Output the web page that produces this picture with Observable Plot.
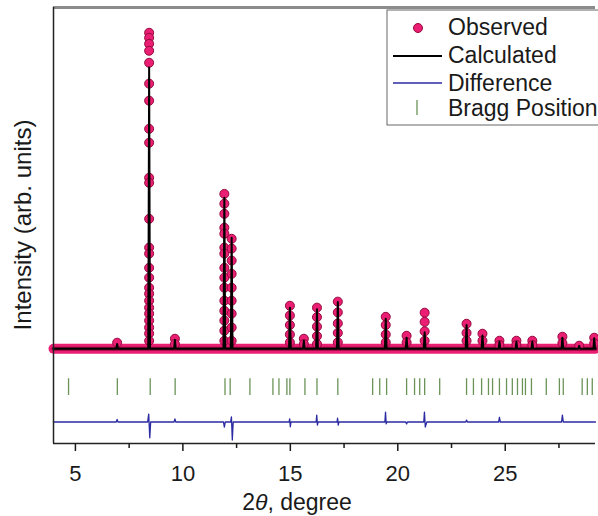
<!DOCTYPE html>
<html><head><meta charset="utf-8">
<script src="https://cdn.jsdelivr.net/npm/d3@7"></script>
<script src="https://cdn.jsdelivr.net/npm/@observablehq/plot@0.6"></script>
<style>body{margin:0;background:#fff;} svg{display:block;}</style>
</head><body><div id="chart"></div>
<script>
// ---- data ----
const xDomain = [3.98, 29.2];
const yDomain = [-3000, 10800];
const xTicks = [5, 10, 15, 20, 25];
const xMinorTicks = [7.5, 12.5, 17.5, 22.5, 27.5];

// reflection positions (2theta) and calculated peak tops
const peakPos  = [6.94, 8.43, 9.63, 11.93, 12.27, 14.98, 15.63, 16.24, 17.21, 19.44, 20.41, 21.25, 23.20, 23.94, 24.73, 25.52, 26.26, 27.66, 28.44, 29.14];
const peakCalc = [150, 8900, 280, 4780, 3510, 1300, 250, 1250, 1480, 950, 350, 520, 750, 420, 220, 220, 220, 350, 90, 330];
// observed points on each peak
const obsDots = [
  [190],
  [10000, 9840, 9650, 9430, 9050, 8390, 7850, 6960, 6520, 5410, 5250, 4110, 3200, 3010, 2560, 2250, 1930, 1740, 1520, 1300, 1110, 890, 670, 480, 250],
  [316, 150],
  [4900, 4590, 4270, 3830, 3640, 3200, 3010, 2560, 2250, 1930, 1520, 1200, 890, 570, 250],
  [3480, 3170, 2790, 2370, 1930, 1520, 1110, 670, 250],
  [1360, 1050, 750, 450, 200],
  [316, 150],
  [1300, 1000, 700, 400, 150],
  [1490, 1150, 800, 500, 200],
  [1010, 750, 450, 200],
  [410, 200],
  [1140, 850, 550, 250],
  [790, 500, 250],
  [475, 250],
  [253, 120],
  [253, 120],
  [253, 120],
  [380, 180],
  [95],
  [348, 170]
];
// Bragg positions (2theta)
const braggPos = [4.68, 6.95, 8.48, 9.64, 11.96, 12.20, 13.12, 14.19, 14.47, 14.84, 14.98, 15.68, 16.24, 17.21, 18.83, 19.16, 19.48, 20.41, 20.78, 21.02, 21.25, 21.95, 23.20, 23.52, 23.90, 24.22, 24.41, 24.73, 25.06, 25.33, 25.57, 25.80, 25.94, 26.22, 26.91, 27.52, 27.70, 28.58, 28.82, 29.05];
const braggTop = -950, braggBottom = -1480;
// difference curve (obs - calc), drawn with an offset
const diffOffset = -2320;
const diffX = [3.98, 6.90, 6.94, 6.98, 8.36, 8.41, 8.46, 8.50, 9.59, 9.63, 9.67, 11.89, 11.93, 11.97, 12.22, 12.26, 12.30, 12.34, 14.94, 14.97, 15.00, 15.03, 16.20, 16.23, 16.26, 16.29, 17.17, 17.20, 17.23, 17.26, 19.40, 19.43, 19.46, 19.49, 20.37, 20.41, 20.45, 21.21, 21.24, 21.28, 21.35, 23.16, 23.20, 23.24, 24.69, 24.73, 24.77, 27.62, 27.66, 27.70, 29.2];
const diffR = [0, 0, 80, 0, 0, 250, -500, 0, 0, 100, 0, 0, -160, 0, 0, 160, -570, 0, 0, 100, -150, 0, 0, 220, -100, 0, 0, 120, -100, 0, 0, 316, -60, 0, 0, -60, 0, 0, 316, -160, 0, 0, 60, 0, 0, 150, 0, 0, 220, 0, 0];

const legendLabels = ["Observed", "Calculated", "Difference", "Bragg Position"];

// ---- tables ----
const obs = peakPos.flatMap((p, i) => obsDots[i].map(h => ({x: p, y: h})));
const calc = [{x: xDomain[0], y: 0},
  ...peakPos.flatMap((p, i) => [{x: p - 0.04, y: 0}, {x: p, y: peakCalc[i]}, {x: p + 0.04, y: 0}]),
  {x: xDomain[1], y: 0}];
const baseline = [{x: xDomain[0], y: 0}, {x: xDomain[1], y: 0}];
const diff = diffX.map((x, i) => ({x, y: diffOffset + diffR[i]}));
const bragg = braggPos.map(x => ({x}));

const pink = "#ea1f73", pinkDark = "#96093d", braggCol = "#6b9358", diffCol = "#2b2ba3";

const chart = Plot.plot({
  width: 598, height: 516,
  marginLeft: 53, marginRight: 3, marginTop: 7, marginBottom: 73,
  x: {domain: xDomain},
  y: {domain: yDomain, axis: null},
  style: {fontFamily: "'Liberation Sans', Arial, sans-serif", background: "white", color: "#1a1a1a"},
  marks: [
    Plot.lineY(baseline, {x: "x", y: "y", stroke: pink, strokeWidth: 10}),
    Plot.lineY(baseline, {x: "x", y: "y", stroke: pinkDark, strokeWidth: 4}),
    Plot.dot(obs, {x: "x", y: "y", r: 4.5, fill: pink, stroke: pinkDark, strokeWidth: 1}),
    Plot.line(calc, {x: "x", y: "y", stroke: "black", strokeWidth: 2}),
    Plot.ruleX(bragg, {x: "x", y1: braggTop, y2: braggBottom, stroke: braggCol, strokeWidth: 1.3}),
    Plot.line(diff, {x: "x", y: "y", stroke: diffCol, strokeWidth: 1.3}),
    Plot.ruleY([yDomain[1]], {stroke: "#8c8c8c", strokeWidth: 3}),
    Plot.ruleX([xDomain[0]], {stroke: "#222", strokeWidth: 1.5}),
    Plot.ruleY([yDomain[0]], {stroke: "#222", strokeWidth: 1.5}),
    Plot.axisX({ticks: xTicks, tickSize: 8, tickPadding: 14, fontSize: 22, label: null, strokeWidth: 1.5}),
    Plot.axisX({ticks: xMinorTicks, tickSize: 5, tickFormat: () => "", label: null, strokeWidth: 1.5})
  ]
});
document.getElementById("chart").appendChild(chart);

// ---- labels and legend ----
const svg = d3.select(chart);
const font = "'Liberation Sans', Arial, sans-serif";
svg.append("text")
  .attr("transform", "translate(31,225) rotate(-90)")
  .attr("text-anchor", "middle").attr("font-size", 24).attr("font-family", font).attr("fill", "#1a1a1a")
  .text("Intensity (arb. units)");
const xl = svg.append("text")
  .attr("x", 297).attr("y", 510).attr("text-anchor", "middle")
  .attr("font-size", 23).attr("font-family", font).attr("fill", "#1a1a1a");
xl.append("tspan").text("2");
xl.append("tspan").attr("font-style", "italic").text("θ");
xl.append("tspan").text(", degree");

const lg = svg.append("g").attr("text-anchor", "start");
lg.append("rect").attr("x", 387).attr("y", 10).attr("width", 230).attr("height", 115)
  .attr("fill", "white").attr("stroke", "#666").attr("stroke-width", 1);
lg.append("circle").attr("cx", 418).attr("cy", 28).attr("r", 4.5).attr("fill", pink).attr("stroke", pinkDark);
lg.append("line").attr("x1", 393).attr("x2", 442).attr("y1", 56).attr("y2", 56).attr("stroke", "black").attr("stroke-width", 2);
lg.append("line").attr("x1", 393).attr("x2", 442).attr("y1", 83).attr("y2", 83).attr("stroke", diffCol).attr("stroke-width", 1.3);
lg.append("line").attr("x1", 417).attr("x2", 417).attr("y1", 100).attr("y2", 115).attr("stroke", braggCol).attr("stroke-width", 1.3);
const baselines = [35, 63, 91, 116];
legendLabels.forEach((t, i) => {
  lg.append("text").attr("x", 448).attr("y", baselines[i]).attr("font-size", 23)
    .attr("text-anchor", "start")
    .attr("font-family", font).attr("fill", "#1a1a1a").text(t);
});
</script>
</body></html>
